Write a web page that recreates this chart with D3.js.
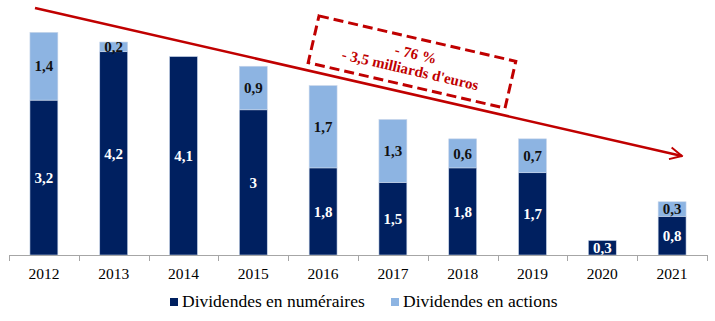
<!DOCTYPE html>
<html>
<head>
<meta charset="utf-8">
<script src="https://cdn.jsdelivr.net/npm/d3@7"></script>
<style>
  html, body { margin: 0; padding: 0; background: #fff; }
  svg { display: block; }
</style>
</head>
<body>
<svg id="chart" width="715" height="321"></svg>
<script>
const years = ["2012","2013","2014","2015","2016","2017","2018","2019","2020","2021"];
const cash =   [3.2, 4.2, 4.1, 3.0, 1.8, 1.5, 1.8, 1.7, 0.3, 0.8];
const shares = [1.4, 0.2, 0,   0.9, 1.7, 1.3, 0.6, 0.7, 0,   0.3];
const seriesNames = ["Dividendes en numéraires", "Dividendes en actions"];
const seriesColors = ["#002060", "#8DB4E2"];
const labelColors = ["#ffffff", "#111111"];
const noteLines = ["- 76 %", "- 3,5 milliards d'euros"];

const font = "'Liberation Serif'";
const red = "#C00000";

const svg = d3.select("#chart");
const x = d3.scaleBand().domain(years).range([9, 707]).paddingInner(0.6).paddingOuter(0.3);
const y = d3.scaleLinear().domain([0, 5]).range([255, 13]);

// stacked layout: cash at the bottom, shares on top
const rows = years.map((yr, i) => ({ year: yr, cash: cash[i], shares: shares[i] }));
const stack = d3.stack().keys(["cash", "shares"])(rows);

const g = svg.append("g");
stack.forEach((layer, li) => {
  const segs = layer.filter(d => d[1] - d[0] > 0);
  const lg = g.append("g");
  lg.selectAll("rect").data(segs).join("rect")
    .attr("x", d => x(d.data.year))
    .attr("width", x.bandwidth())
    .attr("y", d => y(d[1]))
    .attr("height", d => y(d[0]) - y(d[1]))
    .attr("fill", seriesColors[li])
    .attr("stroke", "#c9d6ea")
    .attr("stroke-width", 0.6);
  lg.selectAll("text").data(segs).join("text")
    .attr("x", d => x(d.data.year) + x.bandwidth() / 2)
    .attr("y", d => (y(d[0]) + y(d[1])) / 2)
    .attr("dy", "0.35em")
    .attr("text-anchor", "middle")
    .style("font-family", font)
    .style("font-weight", "bold")
    .style("font-size", "15px")
    .attr("fill", labelColors[li])
    .text(d => d3.format(".1f")(d[1] - d[0]).replace(/\.0$/, "").replace(".", ","));
});

// category axis with ticks at band boundaries
const step = x.step();
const x0 = x.range()[0];
const axisG = svg.append("g");
axisG.append("line")
  .attr("x1", x0).attr("x2", x0 + step * years.length)
  .attr("y1", 255.5).attr("y2", 255.5)
  .attr("stroke", "#a6a6a6").attr("stroke-width", 1);
axisG.selectAll("line.tick").data(d3.range(years.length + 1)).join("line")
  .attr("class", "tick")
  .attr("x1", i => Math.round(x0 + i * step) + 0.5).attr("x2", i => Math.round(x0 + i * step) + 0.5)
  .attr("y1", 255).attr("y2", 261)
  .attr("stroke", "#a6a6a6").attr("stroke-width", 1);
axisG.selectAll("text").data(years).join("text")
  .attr("x", d => x(d) + x.bandwidth() / 2)
  .attr("y", 279)
  .attr("text-anchor", "middle")
  .style("font-family", font)
  .style("font-size", "15.5px")
  .attr("fill", "#000")
  .text(d => d);

// trend arrow
const defs = svg.append("defs");
defs.append("marker")
  .attr("id", "chev")
  .attr("viewBox", "0 0 10 10")
  .attr("refX", 9).attr("refY", 5)
  .attr("markerWidth", 6).attr("markerHeight", 6)
  .attr("markerUnits", "strokeWidth")
  .attr("orient", "auto")
  .append("path")
  .attr("d", "M1,1 L9,5 L1,9")
  .attr("fill", "none")
  .attr("stroke", red)
  .attr("stroke-width", 1.3);
svg.append("line")
  .attr("x1", 35).attr("y1", 8)
  .attr("x2", 682).attr("y2", 156)
  .attr("stroke", red).attr("stroke-width", 2.5)
  .attr("marker-end", "url(#chev)");

// dashed annotation box
const note = svg.append("g").attr("transform", "translate(412,62) rotate(13)");
note.append("rect")
  .attr("x", -101).attr("y", -24)
  .attr("width", 202).attr("height", 48)
  .attr("fill", "none")
  .attr("stroke", red).attr("stroke-width", 3)
  .attr("stroke-dasharray", "10,5");
note.selectAll("text").data(noteLines).join("text")
  .attr("x", (d, i) => i === 0 ? 2 : 0)
  .attr("y", (d, i) => -3.5 + i * 16.5)
  .attr("text-anchor", "middle")
  .style("font-family", font)
  .style("font-weight", "bold")
  .style("font-size", "15px")
  .attr("fill", red)
  .text(d => d);

// legend
const legend = svg.append("g");
const legX = [170, 391];
seriesNames.forEach((name, i) => {
  legend.append("rect")
    .attr("x", legX[i]).attr("y", 298)
    .attr("width", 8).attr("height", 8)
    .attr("fill", seriesColors[i]);
  legend.append("text")
    .attr("x", legX[i] + 12).attr("y", 307)
    .style("font-family", font)
    .style("font-size", "17.5px")
    .attr("fill", "#000")
    .text(name);
});
</script>
</body>
</html>
